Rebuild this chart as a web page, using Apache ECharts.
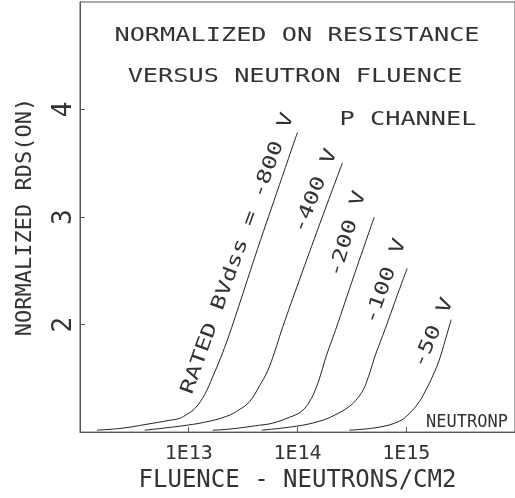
<!DOCTYPE html>
<html><head><meta charset="utf-8">
<script src="https://cdn.jsdelivr.net/npm/echarts@6/dist/echarts.min.js"></script>
<style>html,body{margin:0;padding:0;background:#fff}#c{width:515px;height:498px}</style>
</head><body><div id="c"></div>
<script>
// ---- data ----
const seriesNames = ['-800 V', '-400 V', '-200 V', '-100 V', '-50 V'];
const fluence800 = [1.43e12, 2.48e12, 4.12e12, 6.70e12, 8.26e12, 9.60e12, 1.14e13, 1.40e13, 1.66e13, 2.01e13, 2.48e13, 4.30e13, 6.84e13, 1.00e14];
const rds800     = [1.018, 1.037, 1.073, 1.110, 1.128, 1.165, 1.220, 1.349, 1.514, 1.716, 1.972, 2.706, 3.303, 3.789];
const fluence400 = [3.94e12, 8.26e12, 1.40e13, 2.23e13, 2.94e13, 3.63e13, 4.48e13, 5.31e13, 6.15e13, 7.28e13, 1.04e14, 1.59e14, 2.59e14];
const rds400     = [1.018, 1.055, 1.092, 1.147, 1.211, 1.284, 1.431, 1.569, 1.743, 1.972, 2.413, 2.927, 3.505];
const fluence200 = [1.66e13, 2.38e13, 4.48e13, 5.90e13, 8.45e13, 1.09e14, 1.29e14, 1.46e14, 1.63e14, 1.85e14, 2.23e14, 3.34e14, 5.08e14];
const rds200     = [1.018, 1.028, 1.064, 1.083, 1.138, 1.193, 1.284, 1.394, 1.532, 1.716, 1.945, 2.468, 3.000];
const fluence100 = [4.68e13, 9.80e13, 1.59e14, 2.18e14, 3.00e14, 3.55e14, 4.03e14, 4.39e14, 4.77e14, 5.20e14, 6.42e14, 8.10e14, 1.02e15];
const rds100     = [1.018, 1.055, 1.101, 1.156, 1.239, 1.312, 1.394, 1.486, 1.596, 1.716, 1.963, 2.248, 2.523];
const fluence50  = [3.00e14, 5.65e14, 8.63e14, 1.07e15, 1.32e15, 1.52e15, 1.77e15, 2.01e15, 2.28e15, 2.59e15];
const rds50      = [1.018, 1.046, 1.101, 1.174, 1.284, 1.394, 1.532, 1.670, 1.853, 2.046];
const xTickLabels = ['1E13', '1E14', '1E15'];
const yTickLabels = ['2', '3', '4'];
const curveLabels = ['RATED BVdss = -800 V', '-400 V', '-200 V', '-100 V', '-50 V'];

// ---- annotation placement (data coordinates) and styling ----
const labelAnchorX = [2.84e13, 1.47e14, 2.91e14, 6.50e14, 1.79e15];
const labelAnchorY = [2.66, 3.24, 2.84, 2.40, 1.92];
const labelAngle = [70, 68, 73, 70, 66];

const FONT = '"DejaVu Sans Mono", monospace';
const INK = '#333';
const AXIS = '#555';

const fluences = [fluence800, fluence400, fluence200, fluence100, fluence50];
const values = [rds800, rds400, rds200, rds100, rds50];

const series = seriesNames.map((name, i) => ({
  name: name,
  type: 'line',
  data: fluences[i].map((f, j) => [f, values[i][j]]),
  showSymbol: false,
  smooth: 0.4,
  lineStyle: { color: '#222', width: 1 },
  silent: true
}));

const option = {
  animation: false,
  backgroundColor: '#fff',
  grid: { left: 80, right: -2, top: 2, bottom: 62, show: true, borderColor: AXIS, borderWidth: 1, backgroundColor: 'transparent' },
  xAxis: {
    type: 'log', logBase: 10, min: 1e12, max: 1e16,
    name: 'FLUENCE - NEUTRONS/CM2', nameLocation: 'middle', nameGap: 32,
    nameTextStyle: { fontFamily: FONT, fontSize: 24, color: INK },
    axisLine: { lineStyle: { color: AXIS, width: 1 } },
    axisTick: { inside: true, length: 5, lineStyle: { color: AXIS } },
    splitLine: { show: false },
    minorTick: { show: false },
    axisLabel: {
      showMinLabel: false, showMaxLabel: false, margin: 12,
      fontFamily: FONT, fontSize: 20, color: INK,
      formatter: v => {
        const e = Math.round(Math.log10(v));
        const s = '1E' + e;
        return xTickLabels.indexOf(s) >= 0 ? s : '';
      }
    }
  },
  yAxis: {
    type: 'value', min: 1, max: 5, interval: 1,
    name: 'NORMALIZED RDS(ON)', nameLocation: 'middle', nameGap: 44, nameRotate: 90,
    nameTextStyle: { fontFamily: FONT, fontSize: 22, color: INK },
    axisLine: { show: true, lineStyle: { color: AXIS, width: 1 } },
    axisTick: { show: true, inside: true, length: 5, lineStyle: { color: AXIS } },
    splitLine: { show: false },
    axisLabel: {
      rotate: 90, margin: 3, showMinLabel: false, showMaxLabel: false,
      fontFamily: FONT, fontSize: 26, color: INK,
      formatter: v => (yTickLabels.indexOf(String(v)) >= 0 ? String(v) : '')
    }
  },
  series: series
};

const chart = echarts.init(document.getElementById('c'));
chart.setOption(option);

function txt(text, x, y, size, sx, rotDeg) {
  return {
    type: 'text', x: x, y: y, scaleX: sx, scaleY: 1,
    rotation: (rotDeg || 0) * Math.PI / 180,
    silent: true,
    style: { text: text, fontFamily: FONT, fontSize: size, fill: INK, align: 'center', verticalAlign: 'middle' }
  };
}

const elements = [
  txt('NORMALIZED ON RESISTANCE', 297, 36, 19, 1.33, 0),
  txt('VERSUS NEUTRON FLUENCE', 295, 77, 19, 1.33, 0),
  txt('P CHANNEL', 408, 120, 19, 1.33, 0),
  txt('NEUTRONP', 467, 423, 17, 1.0, 0)
];
curveLabels.forEach((t, i) => {
  const p = chart.convertToPixel({ gridIndex: 0 }, [labelAnchorX[i], labelAnchorY[i]]);
  elements.push(txt(t, p[0], p[1], 19, 1.3, labelAngle[i]));
});
chart.setOption({ graphic: { elements: elements } });
</script>
</body></html>
